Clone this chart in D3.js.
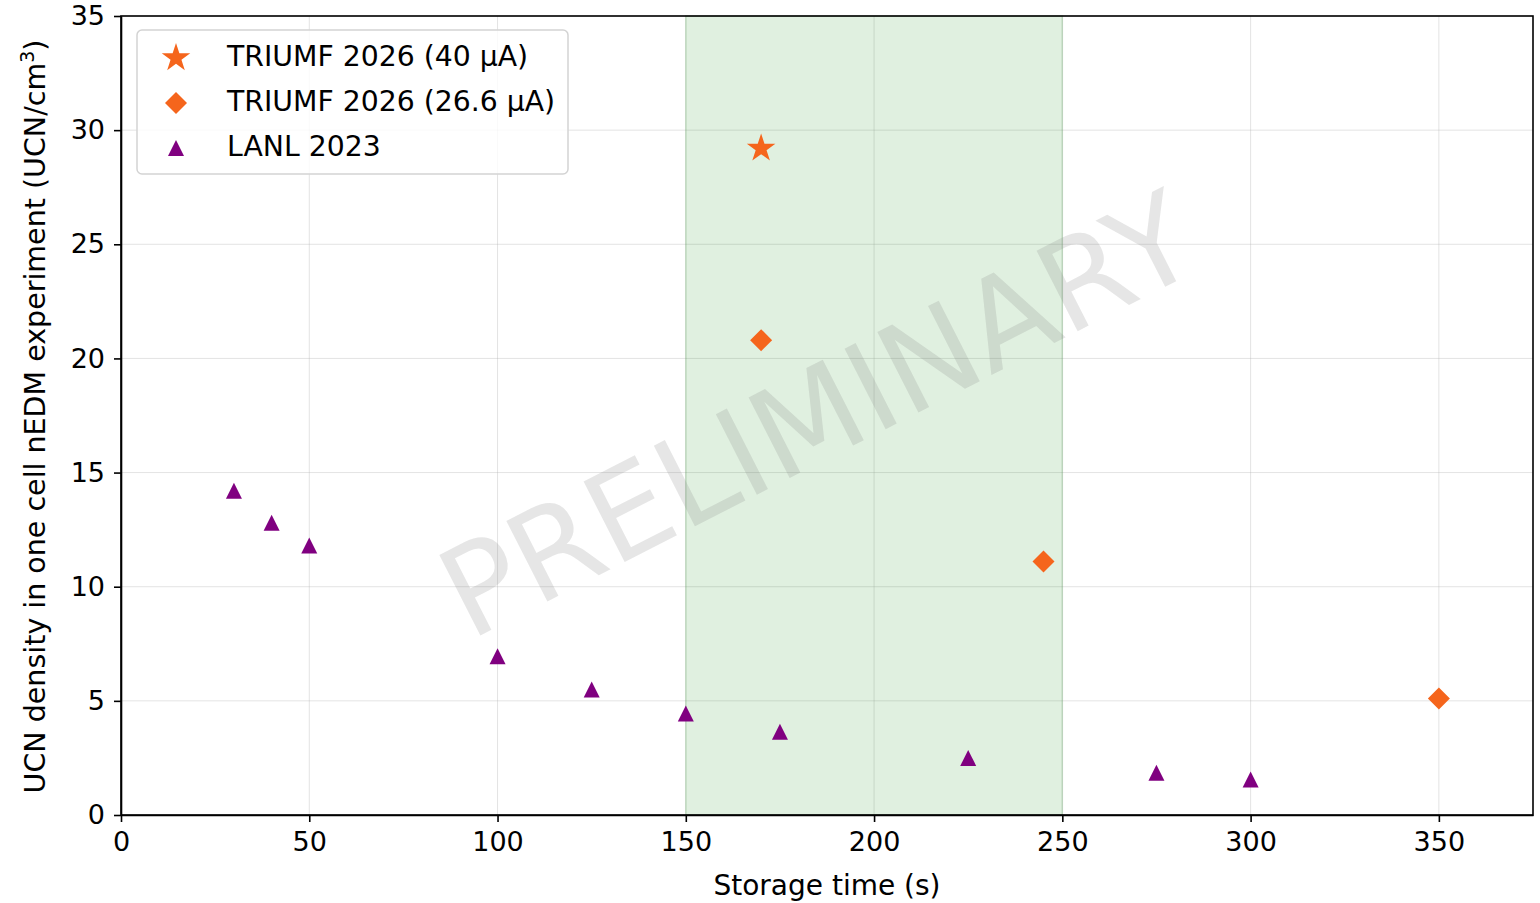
<!DOCTYPE html>
<html>
<head>
<meta charset="utf-8">
<title>UCN density vs storage time</title>
<script src="https://cdn.jsdelivr.net/npm/d3@7"></script>
<style>
body { margin: 0; background: #fff; }
text { font-family: "DejaVu Sans", sans-serif; fill: #000; }
.grid line { stroke: #b0b0b0; stroke-opacity: 0.35; stroke-width: 1; }
.axis path, .axis line { stroke: #000; stroke-width: 1.6; }
</style>
</head>
<body>
<div id="chart"></div>
<script>
// LANL 2023 measured points
var lanlTime = [30, 40, 50, 100, 125, 150, 175, 225, 275, 300];
var lanlDensity = [14.2, 12.8, 11.8, 6.95, 5.5, 4.45, 3.65, 2.5, 1.85, 1.55];
// TRIUMF 2026 projections
var triumf40Time = [170];
var triumf40Density = [29.2];
var triumf266Time = [170, 245, 350];
var triumf266Density = [20.8, 11.1, 5.1];
// shaded storage-time window
var bandRange = [150, 250];
var xTicks = [0, 50, 100, 150, 200, 250, 300, 350];
var yTicks = [0, 5, 10, 15, 20, 25, 30, 35];
var legendLabels = ["TRIUMF 2026 (40 \u00b5A)", "TRIUMF 2026 (26.6 \u00b5A)", "LANL 2023"];

var width = 1540, height = 903;
var margin = {top: 16, right: 7, bottom: 88, left: 121};
var orange = "#f5651c", purple = "#800080";

var svg = d3.select("#chart").append("svg")
	.attr("width", width).attr("height", height);

var x = d3.scaleLinear().domain([0, 375]).range([margin.left, width - margin.right]);
var y = d3.scaleLinear().domain([0, 35]).range([height - margin.bottom, margin.top]);

// marker paths, matplotlib style
function starPath(r) {
	var pts = [];
	for (var i = 0; i < 10; i++) {
		var a = -Math.PI / 2 + i * Math.PI / 5;
		var rr = i % 2 == 0 ? r : r * 0.381966;
		pts.push([rr * Math.cos(a), rr * Math.sin(a)]);
	}
	return "M" + pts.join("L") + "Z";
}
function diamondPath(r) {
	return "M0," + (-r) + "L" + r + ",0L0," + r + "L" + (-r) + ",0Z";
}
function trianglePath(r) {
	return "M0," + (-r) + "L" + r + "," + r + "L" + (-r) + "," + r + "Z";
}

// grid
svg.append("g").attr("class", "grid")
	.selectAll("line.v").data(xTicks).enter().append("line")
	.attr("x1", d => x(d)).attr("x2", d => x(d))
	.attr("y1", y(0)).attr("y2", y(35));
svg.append("g").attr("class", "grid")
	.selectAll("line.h").data(yTicks).enter().append("line")
	.attr("x1", x(0)).attr("x2", x(375))
	.attr("y1", d => y(d)).attr("y2", d => y(d));

// shaded band
svg.append("rect")
	.attr("x", x(bandRange[0])).attr("width", x(bandRange[1]) - x(bandRange[0]))
	.attr("y", y(35)).attr("height", y(0) - y(35))
	.attr("fill", "green").attr("fill-opacity", 0.12)
	.attr("stroke", "green").attr("stroke-opacity", 0.15).attr("stroke-width", 1.5);

// watermark
svg.append("text")
	.attr("transform", "translate(" + x(185) + "," + y(17.5) + ") rotate(-27)")
	.attr("text-anchor", "middle")
	.attr("dominant-baseline", "central")
	.attr("textLength", 825)
	.attr("lengthAdjust", "spacingAndGlyphs")
	.style("font-size", "124px")
	.style("fill", "#808080")
	.style("fill-opacity", 0.2)
	.text("PRELIMINARY");

// axes
var xAxis = svg.append("g").attr("class", "axis")
	.attr("transform", "translate(0," + y(0) + ")")
	.call(d3.axisBottom(x).tickValues(xTicks).tickSize(7).tickPadding(10).tickSizeOuter(0));
var yAxis = svg.append("g").attr("class", "axis")
	.attr("transform", "translate(" + x(0) + ",0)")
	.call(d3.axisLeft(y).tickValues(yTicks).tickSize(7).tickPadding(9).tickSizeOuter(0));
svg.selectAll(".axis text").style("font-size", "27px").style("font-family", "DejaVu Sans, sans-serif");

// frame
svg.append("rect")
	.attr("x", x(0)).attr("y", y(35))
	.attr("width", x(375) - x(0)).attr("height", y(0) - y(35))
	.attr("fill", "none").attr("stroke", "#000").attr("stroke-width", 1.6);

// axis labels
svg.append("text")
	.attr("x", (x(0) + x(375)) / 2).attr("y", 895)
	.attr("text-anchor", "middle")
	.style("font-size", "28px")
	.text("Storage time (s)");
var yl = svg.append("text")
	.attr("transform", "translate(45," + ((y(0) + y(35)) / 2 + 1) + ") rotate(-90)")
	.attr("text-anchor", "middle")
	.style("font-size", "28.5px");
yl.append("tspan").text("UCN density in one cell nEDM experiment (UCN/cm");
yl.append("tspan").attr("dy", -11).style("font-size", "19px").text("3");
yl.append("tspan").attr("dy", 11).text(")");

// data points
svg.append("g").selectAll("path").data(lanlTime).enter().append("path")
	.attr("transform", (d, i) => "translate(" + x(d) + "," + y(lanlDensity[i]) + ")")
	.attr("d", trianglePath(8)).attr("fill", purple);
svg.append("g").selectAll("path").data(triumf266Time).enter().append("path")
	.attr("transform", (d, i) => "translate(" + x(d) + "," + y(triumf266Density[i]) + ")")
	.attr("d", diamondPath(11)).attr("fill", orange);
svg.append("g").selectAll("path").data(triumf40Time).enter().append("path")
	.attr("transform", (d, i) => "translate(" + x(d) + "," + y(triumf40Density[i]) + ")")
	.attr("d", starPath(15)).attr("fill", orange);

// legend
var legend = svg.append("g").attr("transform", "translate(137,30)");
legend.append("rect")
	.attr("width", 431).attr("height", 144).attr("rx", 5)
	.attr("fill", "#fff").attr("fill-opacity", 0.8)
	.attr("stroke", "#d3d3d3").attr("stroke-width", 1.5);
var legendShapes = [starPath(15), diamondPath(11), trianglePath(8)];
var legendColors = [orange, orange, purple];
legendLabels.forEach(function(lab, i) {
	var row = legend.append("g").attr("transform", "translate(0," + (26 + i * 45) + ")");
	row.append("path").attr("transform", "translate(39,2)")
		.attr("d", legendShapes[i]).attr("fill", legendColors[i]);
	row.append("text").attr("x", 90).attr("y", 0)
		.attr("dominant-baseline", "central")
		.style("font-size", "28.3px").text(lab);
});
</script>
</body>
</html>
